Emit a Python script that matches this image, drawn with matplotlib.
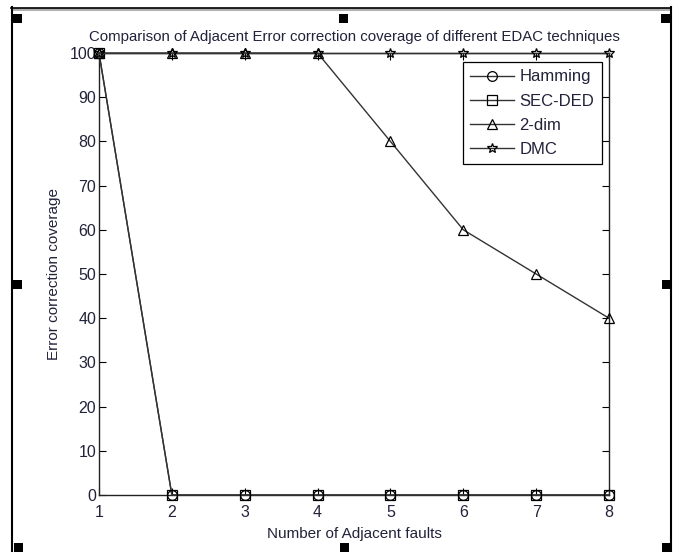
import matplotlib
matplotlib.use('AGG')
import matplotlib.pyplot as plt
from matplotlib.patches import Rectangle
from matplotlib.lines import Line2D

faults = [1, 2, 3, 4, 5, 6, 7, 8]
hamming = [100, 0, 0, 0, 0, 0, 0, 0]
sec_ded = [100, 0, 0, 0, 0, 0, 0, 0]
two_dim = [100, 100, 100, 100, 80, 60, 50, 40]
dmc = [100, 100, 100, 100, 100, 100, 100, 100]

plt.rcParams['font.family'] = ['Liberation Sans', 'DejaVu Sans']
txt = '#22223a'

fig = plt.figure(figsize=(6.78, 5.52), dpi=100)
ax = fig.add_axes([99 / 678, 1 - 495 / 552, 510 / 678, 442 / 552])

# 4つの系列
style = dict(color='#333333', lw=1.0, ms=7, mfc='none', mec='black', mew=0.9,
             clip_on=False, zorder=3)
ax.plot(faults, hamming, marker='o', label='Hamming', **style)
ax.plot(faults, sec_ded, marker='s', label='SEC-DED', **style)
ax.plot(faults, two_dim, marker='^', label='2-dim', **style)
ax.plot(faults, dmc, marker='*', label='DMC', **style)

ax.set_xlim(1, 8)
ax.set_ylim(0, 100)
ax.set_xticks(faults)
ax.set_yticks(range(0, 101, 10))
ax.tick_params(direction='in', length=5, top=True, right=True, labelsize=11.5,
               labelcolor=txt)
ax.tick_params(axis='y', pad=2)
ax.tick_params(axis='x', pad=7)
for s in ax.spines.values():
    s.set_color('#222222')
    s.set_linewidth(1.0)

ax.set_title('Comparison of Adjacent Error correction coverage of different EDAC techniques',
             fontsize=10.8, color=txt, pad=9)
ax.set_xlabel('Number of Adjacent faults', fontsize=11, color=txt, labelpad=5)
ax.set_ylabel('Error correction coverage', fontsize=11, color=txt, labelpad=6)

leg = ax.legend(loc='upper right', bbox_to_anchor=(0.986, 0.98), fontsize=12,
                fancybox=False, framealpha=1, edgecolor='black', borderaxespad=0,
                handlelength=2.6, labelspacing=0.55, handletextpad=0.35,
                borderpad=0.45, labelcolor=txt)
leg.get_frame().set_linewidth(0.9)

# 外枠と選択ハンドル
W, H = 678, 552
fig.add_artist(Line2D([11.5 / W, 11.5 / W], [0, 1 - 7 / H], color='black', lw=1.5))
fig.add_artist(Line2D([670.5 / W, 670.5 / W], [0, 1 - 7 / H], color='black', lw=1.5))
fig.add_artist(Rectangle((11 / W, 1 - 11 / H), 660 / W, 3.5 / H, color='#b0b0b0', lw=0))
fig.add_artist(Line2D([11 / W, 671 / W], [1 - 7.5 / H, 1 - 7.5 / H], color='black', lw=1.2))
for hx, hy in [(13, 14), (339, 14), (661, 14), (13, 280), (662, 280),
               (14, 543), (340, 543), (662, 543)]:
    fig.add_artist(Rectangle((hx / W, 1 - (hy + 9) / H), 9 / W, 9 / H, color='black', lw=0))

plt.savefig('out.png', dpi=100)
plt.close('all')
